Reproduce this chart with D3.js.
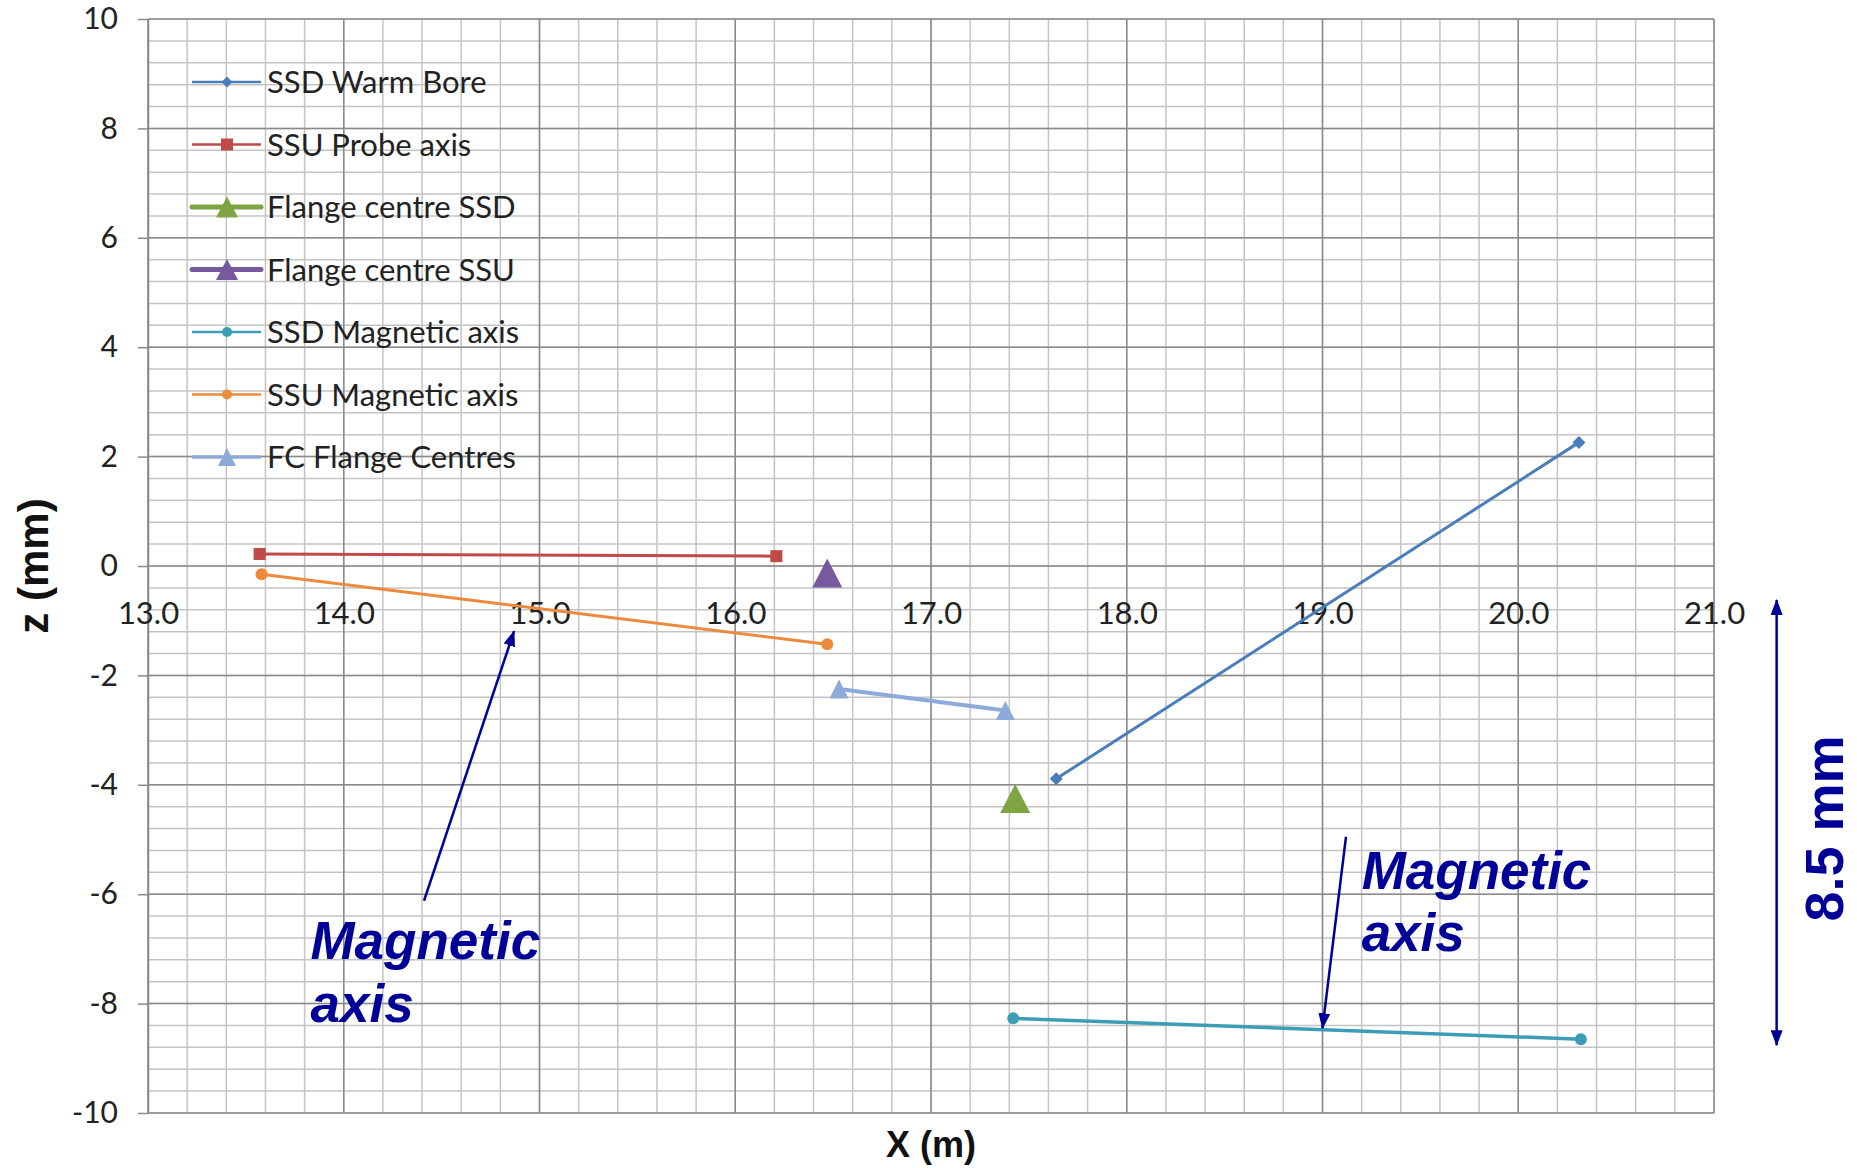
<!DOCTYPE html>
<html>
<head>
<meta charset="utf-8">
<script src="https://cdn.jsdelivr.net/npm/d3@7"></script>
<style>
  body { margin: 0; background: #fff; }
  svg { display: block; }
</style>
</head>
<body>
<div id="chart"></div>
<script>
// Series data: [X (m), z (mm)]
const seriesNames = ['SSD Warm Bore', 'SSU Probe axis', 'Flange centre SSD', 'Flange centre SSU',
  'SSD Magnetic axis', 'SSU Magnetic axis', 'FC Flange Centres'];
const warmBore = [[17.64, -3.89], [20.31, 2.26]];
const probeAxis = [[13.57, 0.22], [16.21, 0.18]];
const flangeSSD = [[17.43, -4.25]];
const flangeSSU = [[16.47, -0.13]];
const magAxisSSD = [[17.42, -8.27], [20.32, -8.65]];
const magAxisSSU = [[13.58, -0.15], [16.47, -1.43]];
const fcFlanges = [[16.53, -2.25], [17.38, -2.64]];

const xTicks = [13, 14, 15, 16, 17, 18, 19, 20, 21];
const yTicks = [-10, -8, -6, -4, -2, 0, 2, 4, 6, 8, 10];

// Annotation anchors in data units
const noteLeft = { x: 13.83, lines: [-7.18, -8.34], tail: [14.41, -6.12], tip: [14.87, -1.19] };
const noteRight = { x: 19.20, lines: [-5.90, -7.04], tail: [19.12, -4.95], tip: [19.00, -8.45] };
const spanArrow = { x: 21.32, top: -0.62, bottom: -8.76 };

const width = 1857;
const height = 1168;
const x = d3.scaleLinear().domain([13, 21]).range([148, 1714]);
const y = d3.scaleLinear().domain([-10, 10]).range([1113, 19]);

const styles = [
  { data: warmBore, color: '#4A7EBB', lw: 3, marker: 'diamond', size: [13, 13], legLw: 2.5, legSize: [11, 11] },
  { data: probeAxis, color: '#BE4B48', lw: 3, marker: 'square', size: [12, 12], legLw: 2.5, legSize: [12, 12] },
  { data: flangeSSD, color: '#7FA443', lw: 5, marker: 'triangle', size: [30, 29], legLw: 5, legSize: [22, 21] },
  { data: flangeSSU, color: '#775A9E', lw: 5, marker: 'triangle', size: [30, 29], legLw: 5, legSize: [22, 21] },
  { data: magAxisSSD, color: '#3E9DB6', lw: 3.5, marker: 'circle', size: [12, 12], legLw: 2.5, legSize: [10, 10] },
  { data: magAxisSSU, color: '#EE8A3C', lw: 3, marker: 'circle', size: [12, 12], legLw: 2.5, legSize: [10, 10] },
  { data: fcFlanges, color: '#8EAAD8', lw: 4, marker: 'triangle', size: [19, 19], legLw: 3.5, legSize: [18, 18] }
];

// Marker shapes centred on 0,0
function markerPath(type, w, h) {
  if (type === 'diamond') return `M0,${-h / 2}L${w / 2},0L0,${h / 2}L${-w / 2},0Z`;
  if (type === 'square') return `M${-w / 2},${-h / 2}h${w}v${h}h${-w}Z`;
  if (type === 'triangle') return `M0,${-h / 2}L${w / 2},${h / 2}L${-w / 2},${h / 2}Z`;
  const r = w / 2;
  return `M${-r},0a${r},${r} 0 1,0 ${2 * r},0a${r},${r} 0 1,0 ${-2 * r},0Z`;
}

const svg = d3.select('#chart').append('svg')
  .attr('width', width)
  .attr('height', height)
  .style('background', '#fff');

// Arrow heads for the annotations
const defs = svg.append('defs');
defs.append('marker')
  .attr('id', 'head')
  .attr('markerUnits', 'userSpaceOnUse')
  .attr('viewBox', '0 0 16 12')
  .attr('refX', 15).attr('refY', 6)
  .attr('markerWidth', 16).attr('markerHeight', 12)
  .attr('orient', 'auto-start-reverse')
  .append('path')
  .attr('d', 'M0,0L16,6L0,12Z')
  .attr('fill', '#000099');

// Gridlines: minor first, then major
const grid = svg.append('g');
const xMinor = d3.range(13, 21.0001, 0.2);
const yMinor = d3.range(-10, 10.0001, 0.4);

grid.selectAll('.xminor').data(xMinor).enter().append('line')
  .attr('x1', d => x(d)).attr('x2', d => x(d))
  .attr('y1', y(10)).attr('y2', y(-10))
  .attr('stroke', '#c4c4c4').attr('stroke-width', 1.5);
grid.selectAll('.yminor').data(yMinor).enter().append('line')
  .attr('x1', x(13)).attr('x2', x(21))
  .attr('y1', d => y(d)).attr('y2', d => y(d))
  .attr('stroke', '#c4c4c4').attr('stroke-width', 1.5);
grid.selectAll('.xmajor').data(xTicks).enter().append('line')
  .attr('x1', d => x(d)).attr('x2', d => x(d))
  .attr('y1', y(10)).attr('y2', y(-10))
  .attr('stroke', '#8a8a8a').attr('stroke-width', 1.5);
grid.selectAll('.ymajor').data(yTicks).enter().append('line')
  .attr('x1', x(13)).attr('x2', x(21))
  .attr('y1', d => y(d)).attr('y2', d => y(d))
  .attr('stroke', '#8a8a8a').attr('stroke-width', 1.5);

// Y axis (ticks + labels on the left), plain hyphen for negatives
const yAxis = svg.append('g')
  .attr('transform', `translate(${x(13)},0)`)
  .call(d3.axisLeft(y).tickValues(yTicks).tickSize(10).tickSizeOuter(0).tickPadding(20).tickFormat(d => String(d)));
yAxis.select('.domain').attr('stroke', '#8a8a8a').attr('stroke-width', 1.5);
yAxis.selectAll('.tick line').attr('stroke', '#8a8a8a').attr('stroke-width', 1.5);
yAxis.selectAll('text')
  .attr('font-family', 'Lato, "Liberation Sans", sans-serif')
  .attr('font-size', 30).attr('fill', '#222');

// X axis labels sit just under z = 0
const xAxis = svg.append('g')
  .attr('transform', `translate(0,${y(0)})`)
  .call(d3.axisBottom(x).tickValues(xTicks).tickSize(0).tickPadding(36).tickFormat(d => d.toFixed(1)));
xAxis.select('.domain').remove();
xAxis.selectAll('text')
  .attr('font-family', 'Lato, "Liberation Sans", sans-serif')
  .attr('font-size', 31).attr('fill', '#222');

// Series lines and markers
const line = d3.line().x(d => x(d[0])).y(d => y(d[1]));
styles.forEach(s => {
  if (s.data.length > 1) {
    svg.append('path')
      .attr('d', line(s.data))
      .attr('fill', 'none')
      .attr('stroke', s.color)
      .attr('stroke-width', s.lw);
  }
  svg.selectAll(null).data(s.data).enter().append('path')
    .attr('transform', d => `translate(${x(d[0])},${y(d[1])})`)
    .attr('d', markerPath(s.marker, s.size[0], s.size[1]))
    .attr('fill', s.color);
});

// Legend (no frame, sits over the grid)
const legend = svg.selectAll('.legend')
  .data(styles)
  .enter().append('g')
  .attr('class', 'legend')
  .attr('transform', (d, i) => `translate(192,${82 + i * 62.5})`);

legend.append('line')
  .attr('x1', 0).attr('x2', 69)
  .attr('stroke', d => d.color)
  .attr('stroke-width', d => d.legLw)
  .attr('stroke-linecap', d => d.legLw >= 5 ? 'round' : 'butt');

legend.append('path')
  .attr('transform', 'translate(35,0)')
  .attr('d', d => markerPath(d.marker, d.legSize[0], d.legSize[1]))
  .attr('fill', d => d.color);

legend.append('text')
  .attr('x', 75)
  .attr('dy', '0.36em')
  .attr('font-family', 'Lato, "Liberation Sans", sans-serif')
  .attr('font-size', 31)
  .attr('fill', '#222')
  .text((d, i) => seriesNames[i]);

// Axis titles
svg.append('text')
  .attr('x', (x(13) + x(21)) / 2)
  .attr('y', 1157)
  .attr('text-anchor', 'middle')
  .attr('font-family', '"Liberation Sans", Arial, sans-serif')
  .attr('font-weight', 'bold')
  .attr('font-size', 36)
  .attr('fill', '#111')
  .text('X (m)');

svg.append('text')
  .attr('transform', `translate(48,${(y(10) + y(-10)) / 2}) rotate(-90)`)
  .attr('text-anchor', 'middle')
  .attr('font-family', '"Liberation Sans", Arial, sans-serif')
  .attr('font-weight', 'bold')
  .attr('font-size', 42)
  .attr('fill', '#111')
  .text('z (mm)');

// "Magnetic axis" annotations
function addNote(note) {
  const t = svg.append('text')
    .attr('font-family', '"Liberation Sans", Arial, sans-serif')
    .attr('font-weight', 'bold')
    .attr('font-style', 'italic')
    .attr('font-size', 53)
    .attr('fill', '#000099');
  ['Magnetic', 'axis'].forEach((w, i) => {
    t.append('tspan').attr('x', x(note.x)).attr('y', y(note.lines[i])).text(w);
  });
  svg.append('line')
    .attr('x1', x(note.tail[0])).attr('y1', y(note.tail[1]))
    .attr('x2', x(note.tip[0])).attr('y2', y(note.tip[1]))
    .attr('stroke', '#000099').attr('stroke-width', 2.5)
    .attr('marker-end', 'url(#head)');
}
addNote(noteLeft);
addNote(noteRight);

// 8.5 mm span arrow on the right
svg.append('line')
  .attr('x1', x(spanArrow.x)).attr('y1', y(spanArrow.top))
  .attr('x2', x(spanArrow.x)).attr('y2', y(spanArrow.bottom))
  .attr('stroke', '#000099').attr('stroke-width', 2.5)
  .attr('marker-start', 'url(#head)')
  .attr('marker-end', 'url(#head)');

svg.append('text')
  .attr('transform', `translate(1843,${y((spanArrow.top + spanArrow.bottom) / 2) + 6}) rotate(-90)`)
  .attr('text-anchor', 'middle')
  .attr('font-family', '"Liberation Sans", Arial, sans-serif')
  .attr('font-weight', 'bold')
  .attr('font-size', 54)
  .attr('fill', '#000099')
  .text('8.5 mm');
</script>
</body>
</html>
